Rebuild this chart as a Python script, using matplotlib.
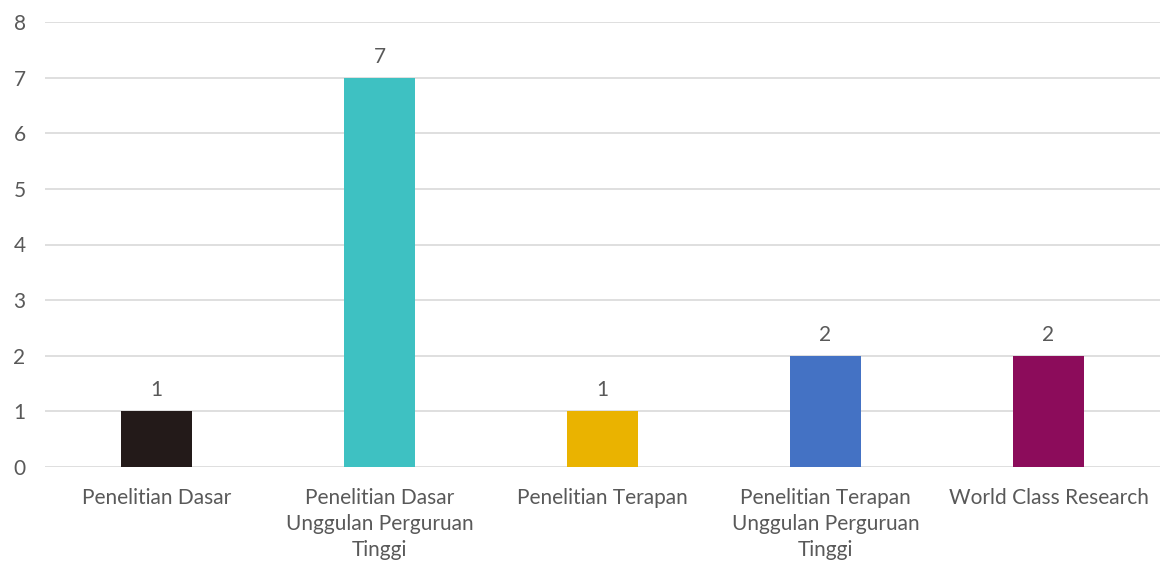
import matplotlib
matplotlib.use("Agg")
import matplotlib.pyplot as plt

# ───── Data ─────────────────────────────────────────────────
categories = ["Penelitian Dasar",
              "Penelitian Dasar\nUnggulan Perguruan\nTinggi",
              "Penelitian Terapan",
              "Penelitian Terapan\nUnggulan Perguruan\nTinggi",
              "World Class Research"]
values = [1, 7, 1, 2, 2]
colors = ["#231A19", "#3EC1C2", "#EAB300", "#4472C4", "#8C0C5B"]
yticks = [0, 1, 2, 3, 4, 5, 6, 7, 8]

plt.rcParams['font.family'] = ['Lato', 'DejaVu Sans']
txt = "#595959"
fs = 15

fig = plt.figure(figsize=(11.62, 5.69), dpi=100)
ax = fig.add_axes([45/1162, 1 - 467/569, 1115/1162, 445/569])

x = range(len(categories))
bars = ax.bar(x, values, width=0.315, color=colors, zorder=3)
for b, v in zip(bars, values):
    ax.annotate(str(v), (b.get_x() + b.get_width()/2, v),
                xytext=(0, 8), textcoords="offset points",
                ha="center", va="bottom", fontsize=fs, color=txt)

ax.set_xlim(-0.5, 4.5)
ax.set_ylim(0, 8)
ax.set_yticks(yticks)
ax.set_xticks(list(x))
ax.set_xticklabels(categories, fontsize=fs, color=txt, linespacing=1.38)
ax.tick_params(axis="y", labelsize=fs, labelcolor=txt, length=0, pad=14)
ax.tick_params(axis="x", length=0, pad=15)
ax.grid(axis="y", color="#D9D9D9", linewidth=1.2, zorder=0)
for s in ax.spines.values():
    s.set_visible(False)

fig.savefig("out.png", dpi=100)
